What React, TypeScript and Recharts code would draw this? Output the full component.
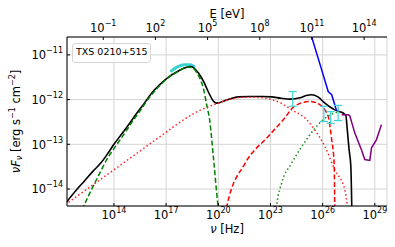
import { ComposedChart, Line, Scatter, ErrorBar, XAxis, YAxis, CartesianGrid, Label } from 'recharts';

const FONT = '"DejaVu Sans", sans-serif';
const SIZE = 11.5;
const SUP = 8;

// all values are log10: nu in Hz, nuFnu in erg s^-1 cm^-2
const totalNu = [11.2, 11.8, 12.28, 12.8, 13.24, 13.62, 14.0, 14.4, 14.77, 15.34, 15.75, 16.1, 16.68, 17.06, 17.7, 18.1, 18.4, 18.65, 18.87, 19.16, 19.43, 19.73, 19.92, 20.4, 21.16, 21.83, 22.5, 23.07, 23.6, 24.13, 24.7, 25.05, 25.37, 25.73, 26.13, 26.7, 27.0, 27.18, 27.34, 27.39, 27.52, 27.62, 27.68];
const totalF = [-14.33, -14.04, -13.83, -13.6, -13.42, -13.22, -13.0, -12.79, -12.6, -12.29, -12.08, -11.89, -11.65, -11.52, -11.36, -11.29, -11.26, -11.31, -11.41, -11.6, -11.83, -12.04, -12.08, -12.02, -11.94, -11.93, -11.93, -11.94, -11.97, -11.99, -11.96, -11.91, -11.89, -11.94, -12.08, -12.23, -12.27, -12.3, -12.36, -12.56, -13.12, -13.49, -14.5];

const synNu = [12.0, 12.5, 13.14, 13.6, 14.1, 14.6, 15.05, 15.5, 16.1, 16.68, 17.06, 17.7, 18.2, 18.45, 18.78, 19.16, 19.35, 19.5, 19.73, 19.98, 20.05];
const synF = [-14.62, -14.18, -13.68, -13.33, -13.04, -12.76, -12.5, -12.25, -11.92, -11.67, -11.53, -11.37, -11.27, -11.28, -11.41, -11.78, -12.15, -12.45, -13.34, -14.37, -14.6];

const extNu = [11.2, 14.0, 16.68, 18.01, 19.0, 19.92, 20.59, 21.2, 21.83, 22.5, 23.07, 23.7, 24.22, 24.98, 25.5, 26.13, 26.7, 27.27, 27.42, 27.5];
const extF = [-14.35, -13.57, -12.82, -12.45, -12.23, -12.09, -12.0, -11.955, -11.945, -11.96, -12.0, -12.1, -12.23, -12.41, -12.65, -13.05, -13.57, -14.01, -14.37, -14.6];

const sscNu = [20.4, 20.5, 21.55, 22.88, 23.74, 24.41, 25.27, 25.85, 26.32, 26.52, 26.66, 26.7];
const sscF = [-14.6, -14.37, -13.42, -12.82, -12.45, -12.14, -12.04, -12.12, -12.38, -12.9, -13.42, -14.6];

const hadNu = [23.3, 23.36, 23.65, 24.22, 24.8, 25.56, 26.03, 26.5, 26.85, 27.0];
const hadF = [-14.6, -14.37, -13.86, -13.42, -13.05, -12.64, -12.45, -12.33, -12.28, -12.27];

const sensNu = [25.25, 25.37, 25.94, 26.32, 26.52, 26.8];
const sensF = [-10.45, -10.6, -11.33, -11.82, -11.89, -12.25];

const ctaNu = [27.09, 27.47, 27.56, 27.85, 28.23, 28.42, 28.71, 28.81, 29.09, 29.38];
const ctaF = [-12.34, -12.34, -12.36, -12.75, -13.12, -13.34, -13.36, -13.08, -12.9, -12.56];

const xrayNu = [17.3, 17.65, 18.05, 18.4, 18.6];
const xrayF = [-11.36, -11.27, -11.22, -11.22, -11.26];

const fermiNu = [24.28, 26.07, 26.46, 26.89];
const fermiF = [-11.985, -12.32, -12.4, -12.3];
const fermiErr = [0.165, 0.17, 0.13, 0.17];

const nuTicks = [14, 17, 20, 23, 26, 29];
const eTicks = [-1, 2, 5, 8, 11, 14];
const fTicks = [-14, -13, -12, -11];

const LOG_HZ_PER_EV = 14.3835;
const NU_DOMAIN = [11.3, 29.7];
const F_DOMAIN = [-14.38, -10.6];

const minorF: number[] = [];
for (let n = -15; n <= -11; n++) {
  for (let k = 2; k <= 9; k++) {
    const v = n + Math.log10(k);
    if (v > F_DOMAIN[0] && v < F_DOMAIN[1]) minorF.push(v);
  }
}

const pts = (xs: number[], ys: number[]) => xs.map((x, i) => ({ x, y: ys[i] }));
const fermiPts = fermiNu.map((x, i) => ({ x, y: fermiF[i], err: fermiErr[i] }));

const expText = (n: number) => (n < 0 ? `\u2212${-n}` : `${n}`);

const NuTick = ({ x, y, payload }: any) => (
  <text x={x} y={y + 13} textAnchor="middle" fontFamily={FONT} fontSize={SIZE} fill="#000">
    10<tspan dy={-6} fontSize={SUP}>{expText(Math.round(payload.value))}</tspan>
  </text>
);

const ETick = ({ x, y, payload }: any) => (
  <text x={x} y={y} textAnchor="middle" fontFamily={FONT} fontSize={SIZE} fill="#000">
    10<tspan dy={-6} fontSize={SUP}>{expText(Math.round(payload.value - LOG_HZ_PER_EV))}</tspan>
  </text>
);

const FTick = ({ x, y, payload }: any) => (
  <text x={x} y={y + 4.2} textAnchor="end" fontFamily={FONT} fontSize={SIZE} fill="#000">
    10<tspan dy={-6} fontSize={SUP}>{expText(Math.round(payload.value))}</tspan>
  </text>
);

const NuTitle = ({ viewBox }: any) => (
  <text x={viewBox.x + viewBox.width / 2} y={viewBox.y + 27} textAnchor="middle" fontFamily={FONT} fontSize={SIZE} fill="#000" style={{ whiteSpace: 'pre' }}>
    <tspan fontStyle="italic">ν</tspan> [Hz]
  </text>
);

const ETitle = ({ viewBox }: any) => (
  <text x={viewBox.x + viewBox.width / 2} y={viewBox.y + 17.5} textAnchor="middle" fontFamily={FONT} fontSize={SIZE} fill="#000">
    E [eV]
  </text>
);

const FTitle = ({ viewBox }: any) => {
  const cx = viewBox.x + 19.5;
  const cy = viewBox.y + viewBox.height / 2;
  return (
    <text x={cx} y={cy} transform={`rotate(-90, ${cx}, ${cy})`} textAnchor="middle" fontFamily={FONT} fontSize={SIZE} fill="#000" style={{ whiteSpace: 'pre' }}>
      <tspan fontStyle="italic">νF</tspan>
      <tspan fontStyle="italic" fontSize={SUP} dy={2.5}>ν</tspan>
      <tspan dy={-2.5}> [erg s</tspan>
      <tspan fontSize={SUP} dy={-5}>−1</tspan>
      <tspan dy={5}> cm</tspan>
      <tspan fontSize={SUP} dy={-5}>−2</tspan>
      <tspan dy={5}>]</tspan>
    </text>
  );
};

const line = { xAxisId: 'nu', yAxisId: 'f', dataKey: 'y', dot: false, activeDot: false, isAnimationActive: false, strokeWidth: 1.5 } as const;

export default function App() {
  return (
    <div style={{ position: 'relative', width: 395, height: 247, background: '#fff' }}>
      <style>{'body{margin:0}'}</style>
      <ComposedChart width={395} height={247} margin={{ top: 0, right: 8, bottom: 0, left: 0 }}>
        <CartesianGrid xAxisId="nu" yAxisId="f" stroke="#d4d4d4" strokeWidth={1} />

        <Line {...line} data={pts(xrayNu, xrayF)} stroke="#3cd2d2" strokeWidth={3} strokeLinecap="round" type="monotone" />
        <Line {...line} data={pts(totalNu, totalF)} stroke="#000" strokeWidth={1.6} type="monotone" />
        <Line {...line} data={pts(synNu, synF)} stroke="#008000" strokeDasharray="5 2.5" type="monotone" />
        <Line {...line} data={pts(extNu, extF)} stroke="#ff2020" strokeDasharray="1.5 2.5" type="monotone" />
        <Line {...line} data={pts(sscNu, sscF)} stroke="#ff0000" strokeDasharray="5 2.5" type="monotone" />
        <Line {...line} data={pts(hadNu, hadF)} stroke="#1a8c1a" strokeDasharray="1.5 2.5" type="monotone" />
        <Line {...line} data={pts(sensNu, sensF)} stroke="#0000ff" />
        <Line {...line} data={pts(ctaNu, ctaF)} stroke="#800080" />

        <Scatter xAxisId="nu" yAxisId="f" data={fermiPts} dataKey="y" isAnimationActive={false} shape={() => <g />}>
          <ErrorBar dataKey="err" direction="y" width={4} stroke="#3cd2d2" strokeWidth={1.2} />
        </Scatter>

        <XAxis xAxisId="nu" type="number" dataKey="x" domain={NU_DOMAIN} allowDataOverflow ticks={nuTicks} interval={0}
          height={41} tickSize={-3} tickMargin={3} stroke="#000" tick={NuTick}>
          <Label content={NuTitle} />
        </XAxis>
        <XAxis xAxisId="e" orientation="top" type="number" dataKey="x" domain={NU_DOMAIN} allowDataOverflow
          ticks={eTicks.map((e) => e + LOG_HZ_PER_EV)} interval={0} height={37} tickSize={-3} tickMargin={8} stroke="#000" tick={ETick}>
          <Label content={ETitle} />
        </XAxis>
        <YAxis yAxisId="fm" type="number" domain={F_DOMAIN} allowDataOverflow ticks={minorF} interval={0} width={0}
          tickSize={-1.8} axisLine={false} stroke="#000" tickFormatter={() => ''} />
        <YAxis yAxisId="f" type="number" domain={F_DOMAIN} allowDataOverflow ticks={fTicks} interval={0} width={67}
          tickSize={-3} tickMargin={7} stroke="#000" tick={FTick}>
          <Label content={FTitle} />
        </YAxis>
        <YAxis yAxisId="fr" orientation="right" type="number" domain={F_DOMAIN} allowDataOverflow ticks={fTicks} interval={0}
          width={0} tickSize={-3} stroke="#000" tickFormatter={() => ''} />
        <YAxis yAxisId="frm" orientation="right" type="number" domain={F_DOMAIN} allowDataOverflow ticks={minorF} interval={0}
          width={0} tickSize={-1.8} axisLine={false} stroke="#000" tickFormatter={() => ''} />
      </ComposedChart>
      <div style={{ position: 'absolute', left: 72, top: 43, width: 79, height: 20, boxSizing: 'border-box', border: '1px solid #d6d6d6', borderRadius: 3, background: 'rgba(255,255,255,0.8)', fontFamily: FONT, fontSize: 9.5, lineHeight: '11px', paddingLeft: 3, paddingTop: 2 }}>
        TXS 0210+515
      </div>
    </div>
  );
}
